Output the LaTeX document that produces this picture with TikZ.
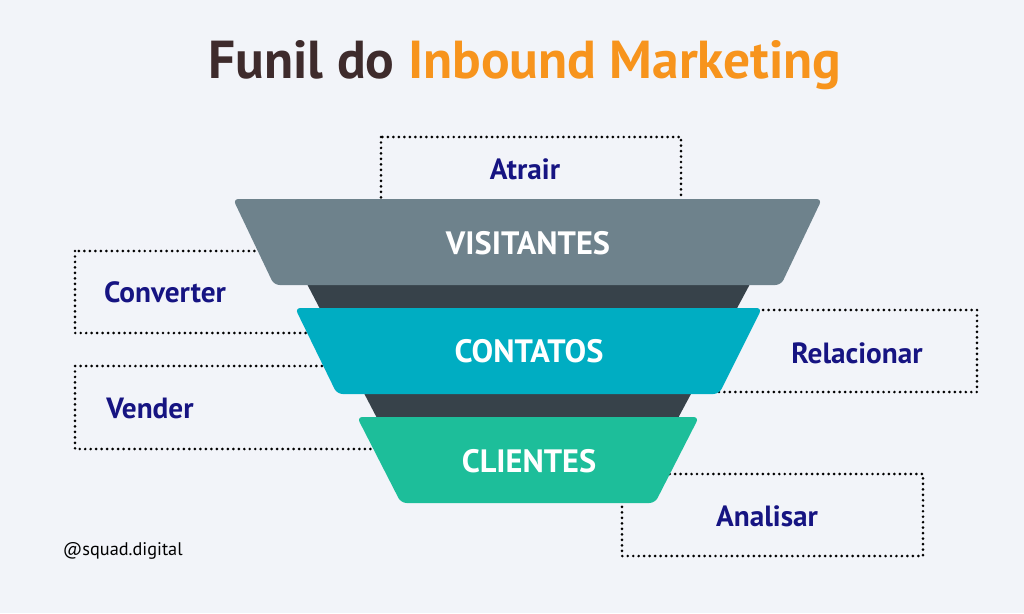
\documentclass[tikz,border=0pt]{standalone}
\usepackage{fontspec}
\setmainfont{PT Sans}
\definecolor{TitleBrown}{RGB}{62,43,44}
\definecolor{TitleOrange}{RGB}{247,148,29}
\definecolor{LabelNavy}{RGB}{22,20,130}
\definecolor{FunnelGray}{RGB}{110,130,140}
\definecolor{FunnelDark}{RGB}{55,66,74}
\definecolor{FunnelTeal}{RGB}{0,173,194}
\definecolor{FunnelGreen}{RGB}{29,190,154}
\definecolor{PageBg}{RGB}{242,244,249}
\usetikzlibrary{positioning, calc}

\begin{document}
\begin{tikzpicture}[x=0.025cm, y=-0.025cm,
	dotbox/.style={line width=2.1pt, dash pattern=on 0pt off 3.9pt, line cap=round},
	stage/.style={rounded corners=4pt},
	stagetext/.style={text=white, font=\bfseries\fontsize{23}{26}\selectfont},
	steplabel/.style={text=LabelNavy, font=\bfseries\fontsize{20.8}{24}\selectfont}]
	\useasboundingbox (0,0) rectangle (1024,613);
	\fill[PageBg] (0,0) rectangle (1024,613);

	\node[anchor=base, font=\bfseries\fontsize{38}{44}\selectfont] (title) at (525,78)
		{\textcolor{TitleBrown}{Funil do} \textcolor{TitleOrange}{Inbound Marketing}};

	\draw[dotbox] (381,137) rectangle (681,260);
	\draw[dotbox] (75,251) rectangle (420,333);
	\draw[dotbox] (75,366) rectangle (450,449);
	\draw[dotbox] (620,310) rectangle (977,392);
	\draw[dotbox] (622,474) rectangle (923,556);

	\fill[FunnelDark] (307,284) -- (750,284) -- (677,420) -- (378,420) -- cycle;
	\fill[FunnelGray, stage] (233,199) -- (822,199) -- (781,285) -- (274,285) -- cycle;
	\fill[FunnelTeal, stage] (295,308) -- (762,308) -- (719,394) -- (337,394) -- cycle;
	\fill[FunnelGreen, stage] (357,417) -- (699,417) -- (655,503) -- (401,503) -- cycle;

	\node[stagetext] (visitantes) at (528,243) {VISITANTES};
	\node[stagetext] (contatos) at (529,351) {CONTATOS};
	\node[stagetext] (clientes) at (529,461) {CLIENTES};

	\node[steplabel] (atrair) at (525,169) {Atrair};
	\node[steplabel] (converter) at (165,292) {Converter};
	\node[steplabel] (vender) at (150,408) {Vender};
	\node[steplabel] (relacionar) at (857,353) {Relacionar};
	\node[steplabel] (analisar) at (767,516) {Analisar};

	\node[anchor=base west, font=\fontsize{13}{15}\selectfont] (credit) at (58,555) {@squad.digital};
\end{tikzpicture}
\end{document}
